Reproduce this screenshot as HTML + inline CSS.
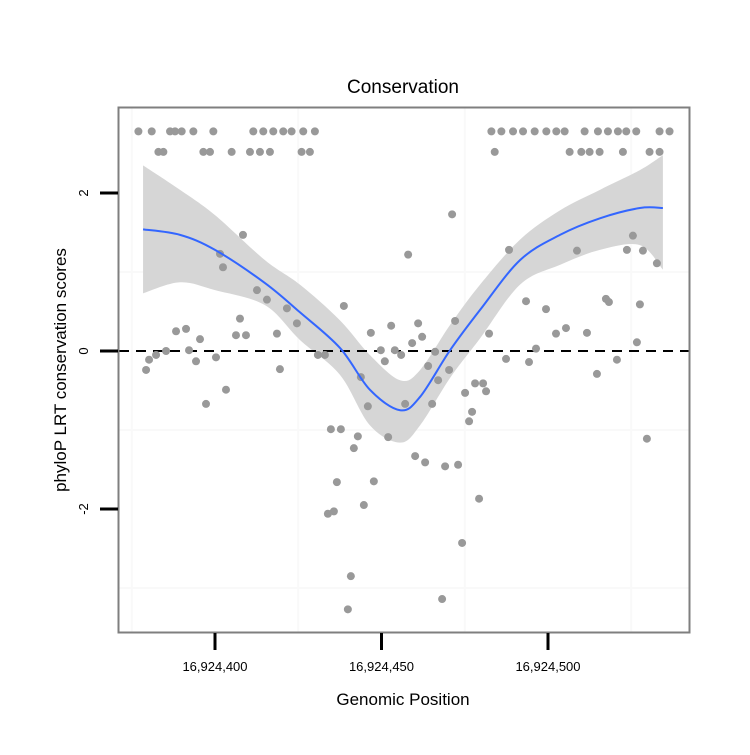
<!DOCTYPE html>
<html><head><meta charset="utf-8"><style>
body{margin:0;background:#fff;}
svg text{font-family:"Liberation Sans",Arial,sans-serif;}
</style></head><body>
<svg width="750" height="750" xmlns="http://www.w3.org/2000/svg">
<g id="grid"></g>
<g id="ribbon-g"></g>
<g id="pts"></g>
<g id="fit-g"></g>
<rect x="118.5" y="107.5" width="571" height="525" fill="none" stroke="#7f7f7f" stroke-width="2"/>
<g id="axes"></g>
<text x="403" y="93" font-size="19" text-anchor="middle">Conservation</text>
<text x="403" y="705" font-size="17" text-anchor="middle">Genomic Position</text>
<text transform="translate(66,370) rotate(-90)" font-size="17" text-anchor="middle">phyloP LRT conservation scores</text>
</svg>
<script>
const base=16924400;
const xTicks=[0,50,100];
const xTickLabels=["16,924,400","16,924,450","16,924,500"];
const yTicks=[-2,0,2];
const yTickLabels=["-2","0","2"];
const topRowX=[-23,-19,-13.5,-12,-10,-6.5,-0.5,11.5,14.5,17.5,20.5,23,26.5,30,83,86,89.5,92.5,96,99.5,102.5,105,111,115,118,121,123.5,126.5,133.5,136.5];
const secondRowX=[-17,-15.5,-3.5,-1.5,5,10.5,13.5,16.5,26,28.5,84,106.5,110,112.5,115.5,122.5,130.5,133.5];
const pointX=[-20.7,-19.8,-17.7,-14.7,-11.7,-8.7,-4.5,-7.8,-5.7,-2.7,0.3,1.5,2.4,3.3,6.3,7.5,9.3,8.4,12.6,15.6,18.6,19.5,21.6,24.6,30.9,33,38.7,34.8,37.8,42.9,41.7,36.6,33.9,35.7,40.8,39.9,44.7,47.7,45.9,43.8,46.8,49.8,51,52.9,54,55.9,52,57.1,58,61,62.2,59.2,60.1,63.1,65.2,64,66.1,69.1,73,68.2,70.3,67,72.1,71.2,74.2,75.1,77.2,76.3,78.1,80.5,81.4,79.3,82.3,88.3,87.4,93.4,94.3,96.4,99.4,102.4,105.4,108.7,111.7,114.7,117.4,118.3,120.7,123.7,125.5,126.7,127.6,128.5,129.7,132.7];
const pointY=[-0.24,-0.11,-0.05,0,0.25,0.28,0.15,0.01,-0.13,-0.67,-0.08,1.23,1.06,-0.49,0.2,0.41,0.2,1.47,0.77,0.65,0.22,-0.23,0.54,0.35,-0.05,-0.05,0.57,-0.99,-0.99,-1.08,-1.23,-1.66,-2.06,-2.03,-2.85,-3.27,-1.95,-1.65,-0.7,-0.33,0.23,0.01,-0.13,0.32,0.01,-0.05,-1.09,-0.67,1.22,0.35,0.18,0.1,-1.33,-1.41,-0.67,-0.19,-0.01,-1.46,-1.44,-3.14,-0.24,-0.37,0.38,1.73,-2.43,-0.53,-0.77,-0.89,-0.41,-0.41,-0.51,-1.87,0.22,1.28,-0.1,0.63,-0.14,0.03,0.53,0.22,0.29,1.27,0.23,-0.29,0.66,0.62,-0.11,1.28,1.46,0.11,0.59,1.27,-1.11,1.11];
const fitX=[-21.6,-10.5,0,15,25.5,37.5,46.5,55.6,61.6,70.6,79.6,91.6,103.6,115.6,127.6,134.5];
const fitY=[1.54,1.47,1.28,0.86,0.49,0.04,-0.49,-0.75,-0.58,0.01,0.52,1.15,1.47,1.68,1.81,1.81];
const fitUpper=[2.35,2.04,1.72,1.15,0.84,0.39,-0.05,-0.37,-0.24,0.33,0.84,1.41,1.78,2.04,2.29,2.48];
const fitLower=[0.73,0.87,0.77,0.58,0.14,-0.3,-0.94,-1.16,-0.94,-0.34,0.16,0.84,1.09,1.28,1.34,1.03];

const NS="http://www.w3.org/2000/svg";
const sx=v=>215+v*3.33;
const sy=v=>351-v*79;
function mk(tag,attrs,parent){const e=document.createElementNS(NS,tag);for(const k in attrs)e.setAttribute(k,attrs[k]);parent.appendChild(e);return e;}
function smooth(pts){let d="M"+pts[0][0]+","+pts[0][1];for(let i=0;i<pts.length-1;i++){const p0=pts[i-1]||pts[i],p1=pts[i],p2=pts[i+1],p3=pts[i+2]||p2;d+=" C"+(p1[0]+(p2[0]-p0[0])/6)+","+(p1[1]+(p2[1]-p0[1])/6)+" "+(p2[0]-(p3[0]-p1[0])/6)+","+(p2[1]-(p3[1]-p1[1])/6)+" "+p2[0]+","+p2[1];}return d;}

const grid=document.getElementById('grid');
[-25,25,75,125].forEach(v=>{const l=mk('line',{x1:sx(v),x2:sx(v),y1:108,y2:632,stroke:'#f9f9f9','stroke-width':2},grid);

});
[-3,-1,1].forEach(v=>{const l=mk('line',{x1:119,x2:689,y1:sy(v),y2:sy(v),stroke:'#f9f9f9','stroke-width':2},grid);

});

const rg=document.getElementById('ribbon-g');
const up=fitX.map((x,i)=>[sx(x),sy(fitUpper[i])]);
const lo=fitX.map((x,i)=>[sx(x),sy(fitLower[i])]).reverse();
const rib=mk('path',{d:smooth(up)+" L"+smooth(lo).slice(1)+" Z",fill:'#d6d6d6'},rg);



const zl=mk('line',{x1:119,x2:689,y1:sy(0),y2:sy(0),stroke:'#000','stroke-width':2,'stroke-dasharray':'10,7'},rg);



const pg=document.getElementById('pts');
function dot(x,y){const c=mk('circle',{cx:sx(x),cy:sy(y),r:4,fill:'#999'},pg);

}
topRowX.forEach(x=>dot(x,2.78));
secondRowX.forEach(x=>dot(x,2.52));
pointX.forEach((x,i)=>dot(x,pointY[i]));

const fg=document.getElementById('fit-g');
const fl=mk('path',{d:smooth(fitX.map((x,i)=>[sx(x),sy(fitY[i])])),fill:'none',stroke:'#3366ff','stroke-width':2},fg);



const ax=document.getElementById('axes');
xTicks.forEach((v,i)=>{const t=mk('line',{x1:sx(v),x2:sx(v),y1:633,y2:650,stroke:'#000','stroke-width':3},ax);


const tx=mk('text',{x:sx(v),y:671,'font-size':13,'text-anchor':'middle'},ax);tx.textContent=xTickLabels[i];

});
yTicks.forEach((v,i)=>{const t=mk('line',{x1:100,x2:118,y1:sy(v),y2:sy(v),stroke:'#000','stroke-width':3},ax);


const tx=mk('text',{transform:`translate(88,${sy(v)}) rotate(-90)`,'font-size':13,'text-anchor':'middle'},ax);tx.textContent=yTickLabels[i];

});
</script>
</body></html>
